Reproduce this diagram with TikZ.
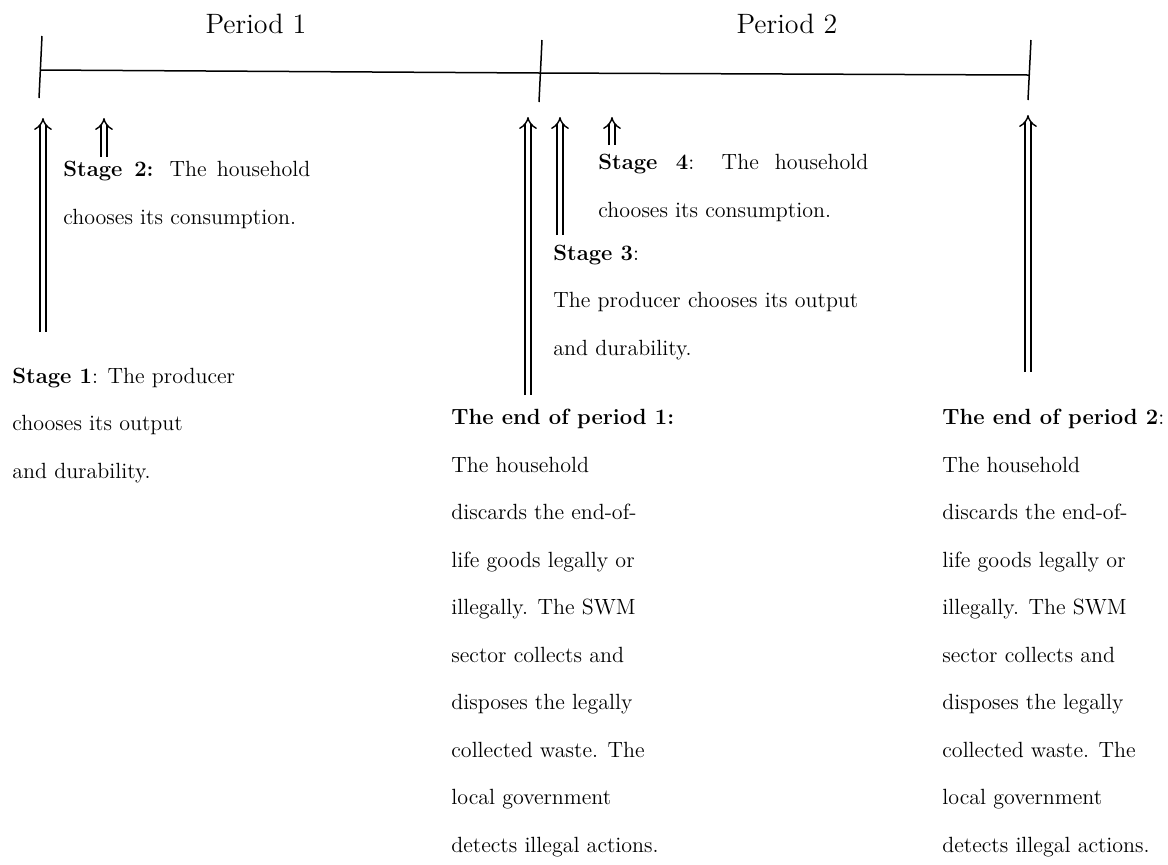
\documentclass[tikz,border=0pt]{standalone}
\usepackage{amsmath}
\usepackage{tikz}
\usetikzlibrary{arrows}

\begin{document}
\begin{tikzpicture}[x=0.5pt,y=-0.5pt,
    txt/.style={anchor=base west,inner sep=0pt,align=left,font=\fontsize{11}{23.75}\selectfont},
    per/.style={anchor=base,inner sep=0pt,font=\fontsize{14}{16}\selectfont},
    tline/.style={line width=0.75pt},
    up/.style={double,double distance=2.4pt,line width=0.7pt,-implies}]
    \useasboundingbox (0,0) rectangle (1168,864);
            % time line
            \node[per] (per1) at (256,33) {Period 1};
            \node[per] (per2) at (787,33) {Period 2};
            \coordinate (p0) at (41,70);
            \coordinate (p1) at (540,73);
            \coordinate (p2) at (1029,75);
            \draw[tline] (42,36) -- (39,98);
            \draw[tline] (542,40) -- (539,102);
            \draw[tline] (1031,40) -- (1028,100);
            \draw[tline] (p0) -- (p1) -- (p2);
            % stages (base = last line)
            \node[txt] (st1) at (12,478) {\textbf{Stage 1}: The producer\\chooses its output\\and durability.};
            \node[txt] (st2) at (63,224) {\makebox[123.5pt][s]{\textbf{Stage 2:} The household}\\chooses its consumption.};
            \node[txt] (st3) at (553,355) {\textbf{Stage 3}:\\The producer chooses its output\\and durability.};
            \node[txt] (st4) at (598,217) {\makebox[135pt][s]{\textbf{Stage 4}: The household}\\chooses its consumption.};
            \node[txt] (end1) at (451,852) {\textbf{The end of period 1:}\\The household\\discards the end-of-\\life goods legally or\\illegally. The SWM\\sector collects and\\disposes the legally\\collected waste. The\\local government\\detects illegal actions.};
            \node[txt] (end2) at (942,852) {\textbf{The end of period 2}:\\The household\\discards the end-of-\\life goods legally or\\illegally. The SWM\\sector collects and\\disposes the legally\\collected waste. The\\local government\\detects illegal actions.};
            % arrows
            \coordinate (a1) at (43,332);   \coordinate (h1) at (43,118);
            \coordinate (a2) at (104,157);  \coordinate (h2) at (104,118);
            \coordinate (a3) at (528,395);  \coordinate (h3) at (528,117);
            \coordinate (a4) at (560,235);  \coordinate (h4) at (560,117);
            \coordinate (a5) at (612,145);  \coordinate (h5) at (612,117);
            \coordinate (a6) at (1028,372); \coordinate (h6) at (1028,115);
            \foreach \i in {1,...,6}
                \draw[up] (a\i) -- (h\i);
        \end{tikzpicture}
\end{document}
